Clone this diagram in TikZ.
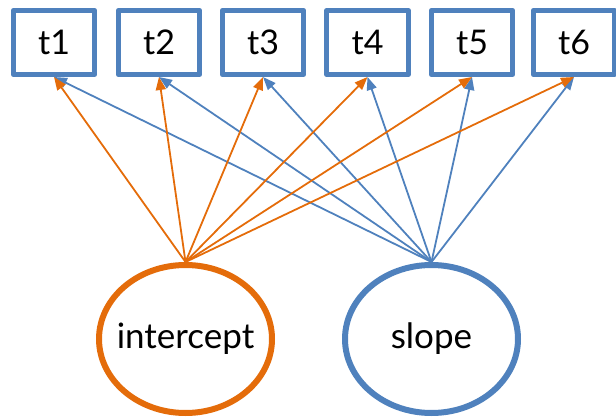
\documentclass[tikz,border=0pt]{standalone}
\usepackage{fontspec}
\setmainfont{Lato}
\usetikzlibrary{shapes.geometric,arrows.meta}
\definecolor{gcorange}{RGB}{228,108,10}
\definecolor{gcblue}{RGB}{79,129,189}

\begin{document}
\begin{tikzpicture}[x=1pt,y=1pt,line cap=round,line join=round,
	timebox/.style={draw=gcblue,line width=5pt,rectangle,minimum width=81.5pt,minimum height=64pt,font=\fontsize{34}{38}\selectfont},
	factor/.style={ellipse,line width=6pt,inner xsep=-12pt,inner ysep=0pt,minimum width=173pt,minimum height=148pt,font=\fontsize{35}{38}\selectfont},
	icpt/.style={draw=gcorange,line width=1.8pt,-{Triangle[length=13pt,width=10pt]}},
	slp/.style={draw=gcblue,line width=1.8pt,-{Triangle[length=13pt,width=10pt]}}]
				\useasboundingbox (0,0) rectangle (616,416);
				% observed time points
				\node[timebox] (t1) at (54,373.5) {t1};
				\node[timebox] (t2) at (159,373.5) {t2};
				\node[timebox] (t3) at (263,373.5) {t3};
				\node[timebox] (t4) at (367.5,373.5) {t4};
				\node[timebox] (t5) at (472,373.5) {t5};
				\node[timebox] (t6) at (574,373.5) {t6};
				% growth factors
				\node[factor,draw=gcorange] (intercept) at (185.5,77) {intercept};
				\node[factor,draw=gcblue] (slope) at (431.5,77) {slope};
				% loadings
				\draw [slp] (slope.north) -- (t1.south);
				\draw [slp] (slope.north) -- (t2.south);
				\draw [slp] (slope.north) -- (t3.south);
				\draw [slp] (slope.north) -- (t4.south);
				\draw [slp] (slope.north) -- (t5.south);
				\draw [slp] (slope.north) -- (t6.south);
				\draw [icpt] (intercept.north) -- (t1.south);
				\draw [icpt] (intercept.north) -- (t2.south);
				\draw [icpt] (intercept.north) -- (t3.south);
				\draw [icpt] (intercept.north) -- (t4.south);
				\draw [icpt] (intercept.north) -- (t5.south);
				\draw [icpt] (intercept.north) -- (t6.south);
\end{tikzpicture}
\end{document}
